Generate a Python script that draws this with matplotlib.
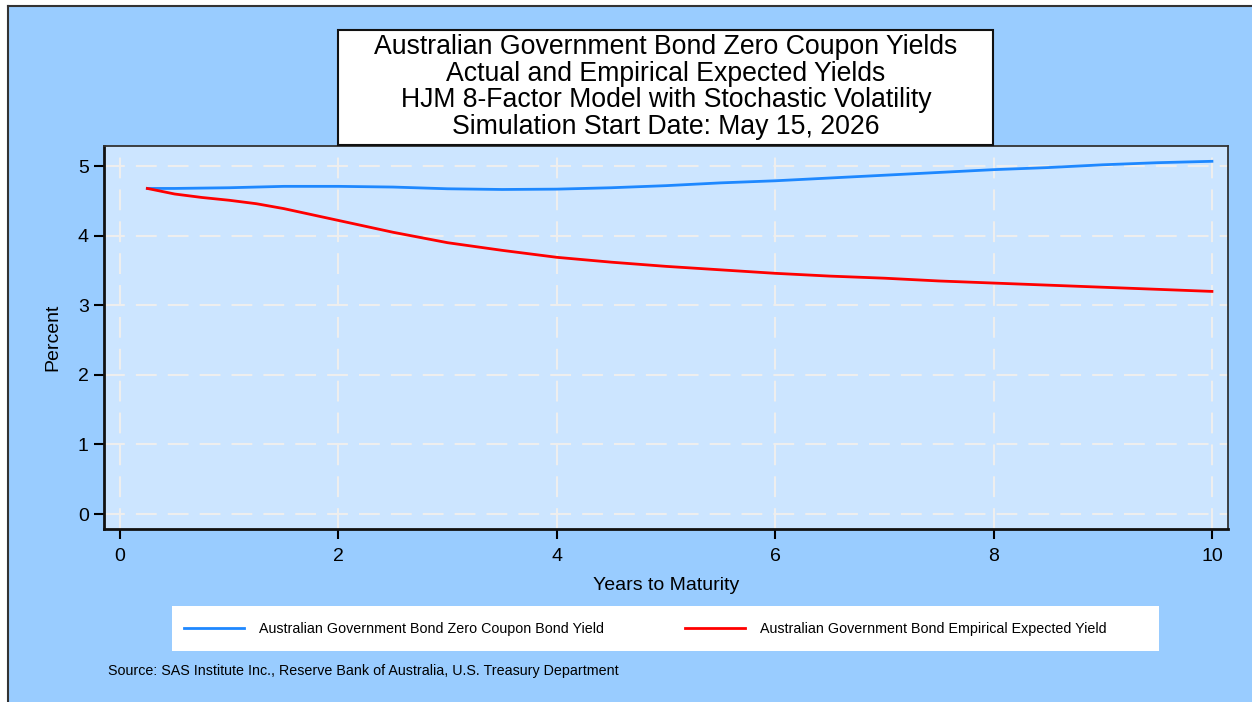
import matplotlib
matplotlib.use('Agg')
import matplotlib.pyplot as plt
from matplotlib.patches import Rectangle
from matplotlib.lines import Line2D

plt.rcParams['font.family'] = ['Liberation Sans', 'DejaVu Sans']

# --- données ---
maturity_actual = [0.25, 0.5, 1, 1.5, 2, 2.5, 3, 3.5, 4, 4.5, 5, 5.5, 6, 6.5, 7,
                   7.5, 8, 8.5, 9, 9.5, 10]
yield_actual = [4.68, 4.68, 4.69, 4.71, 4.71, 4.70, 4.675, 4.665, 4.67, 4.69, 4.72,
                4.76, 4.79, 4.83, 4.87, 4.91, 4.95, 4.98, 5.02, 5.05, 5.07]

maturity_expected = [0.25, 0.5, 0.75, 1, 1.25, 1.5, 2, 2.5, 3, 3.5, 4, 4.5, 5, 5.5,
                     6, 6.5, 7, 7.5, 8, 8.5, 9, 9.5, 10]
yield_expected = [4.68, 4.60, 4.55, 4.51, 4.46, 4.39, 4.22, 4.05, 3.90, 3.79, 3.69,
                  3.62, 3.56, 3.51, 3.46, 3.42, 3.39, 3.35, 3.32, 3.29, 3.26, 3.23, 3.20]

x_ticks = [0, 2, 4, 6, 8, 10]
y_ticks = [0, 1, 2, 3, 4, 5]

title_lines = ["Australian Government Bond Zero Coupon Yields",
               "Actual and Empirical Expected Yields",
               "HJM 8-Factor Model with Stochastic Volatility",
               "Simulation Start Date: May 15, 2026"]
label_actual = "Australian Government Bond Zero Coupon Bond Yield"
label_expected = "Australian Government Bond Empirical Expected Yield"
source_text = "Source: SAS Institute Inc., Reserve Bank of Australia, U.S. Treasury Department"

W, H = 1252, 702
BG = '#99CCFF'
PLOT_BG = '#CCE5FF'
BLUE = '#1E88FF'
RED = '#FF0000'


def fx(px):
    return px / W


def fy(py):
    return 1 - py / H


fig = plt.figure(figsize=(W / 100, H / 100), dpi=100)
fig.patch.set_facecolor('white')

# fond bleu avec cadre (coin haut-gauche)
fig.patches.append(Rectangle((fx(8), 0), 1 - fx(8), fy(6), transform=fig.transFigure,
                             facecolor=BG, edgecolor='none', zorder=-1))
fig.lines.append(Line2D([fx(8), fx(8)], [0, fy(6)], transform=fig.transFigure,
                        color='#333333', linewidth=1.5))
fig.lines.append(Line2D([fx(8), 1], [fy(6), fy(6)], transform=fig.transFigure,
                        color='#333333', linewidth=1.5))

ax = fig.add_axes([fx(104), fy(529), fx(1228) - fx(104), fy(146) - fy(529)])
ax.set_zorder(1)
ax.set_facecolor(PLOT_BG)

ax.plot(maturity_actual, yield_actual, color=BLUE, linewidth=2, label=label_actual, zorder=3)
ax.plot(maturity_expected, yield_expected, color=RED, linewidth=2, label=label_expected, zorder=3)

ax.set_xlim(-0.147, 10.147)
ax.set_ylim(-0.215, 5.29)
ax.set_xticks(x_ticks)
ax.set_yticks(y_ticks)
ax.tick_params(axis='both', direction='out', length=7, width=1.5, labelsize=14)
ax.tick_params(axis='x', pad=7)
ax.tick_params(axis='y', pad=4)
ax.grid(True, color='#EEEEEE', linestyle=(0, (10, 5.3)), linewidth=1.5, zorder=1)
ax.set_axisbelow(True)

for side in ['left', 'bottom']:
    ax.spines[side].set_linewidth(2)
    ax.spines[side].set_color('#111111')
for side in ['top', 'right']:
    ax.spines[side].set_linewidth(1.3)
    ax.spines[side].set_color('#333333')

ax.set_ylabel('Percent', fontsize=14, labelpad=12)
ax.set_xlabel('Years to Maturity', fontsize=14, labelpad=8)

# boîte du titre
fig.patches.append(Rectangle((fx(338), fy(145)), fx(993) - fx(338), fy(30) - fy(145),
                             transform=fig.transFigure, facecolor='white',
                             edgecolor='#111111', linewidth=1.5, zorder=5))
for i, line in enumerate(title_lines):
    fig.text(fx(666), fy(47 + 26.7 * i), line, ha='center', va='center',
             fontsize=19.2, zorder=6)

# légende
fig.patches.append(Rectangle((fx(172), fy(651)), fx(1159) - fx(172), fy(606) - fy(651),
                             transform=fig.transFigure, facecolor='white',
                             edgecolor='none', zorder=2))
handles, labels = ax.get_legend_handles_labels()
leg = fig.legend(handles, labels, loc='center left', bbox_to_anchor=(fx(184), fy(629)),
                 ncol=2, frameon=False, fontsize=10.25, handlelength=4.2, handletextpad=1.1,
                 columnspacing=5.65, borderaxespad=0, borderpad=0)
leg.set_zorder(3)

fig.text(fx(108), fy(671), source_text, ha='left', va='center', fontsize=10.25)

fig.savefig('out.png', dpi=100, facecolor=fig.get_facecolor())
